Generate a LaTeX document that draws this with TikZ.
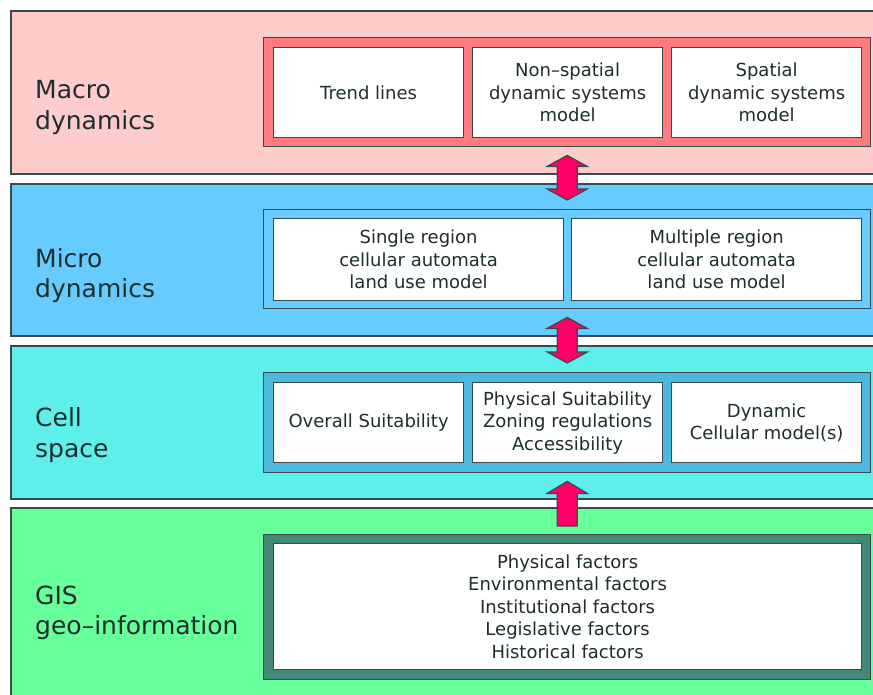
\documentclass[tikz,border=0pt]{standalone}
\usepackage{fontspec}
\setmainfont{DejaVu Sans}
\definecolor{edge}{HTML}{3A4A4A}
\definecolor{ink}{HTML}{1E2D2D}
\definecolor{macrofill}{HTML}{FFCCCC}
\definecolor{macrotray}{HTML}{FF7B80}
\definecolor{microfill}{HTML}{66CCFF}
\definecolor{microtray}{HTML}{66CCFF}
\definecolor{cellfill}{HTML}{5EEEEC}
\definecolor{celltray}{HTML}{4DB8DD}
\definecolor{gisfill}{HTML}{66FF99}
\definecolor{gistray}{HTML}{448877}
\definecolor{arrowfill}{HTML}{FF0066}
\begin{document}
\begin{tikzpicture}[x=1pt,y=-1pt,
    bandbox/.style={draw=edge, line width=1.6pt, anchor=north west, inner sep=0pt, minimum width=880pt},
    traybox/.style={draw=edge, line width=1.4pt, anchor=north west, inner sep=0pt, minimum width=607pt},
    modelbox/.style={draw=edge, line width=1.2pt, fill=white, anchor=north west, inner sep=0pt,
        align=center, text=ink, font=\fontsize{18}{22.5}\selectfont},
    bandlabel/.style={anchor=west, inner sep=0pt, align=left, text=ink, font=\fontsize{25}{30.5}\selectfont},
    blockarrow/.style={draw=edge, line width=1.2pt, fill=arrowfill, line join=miter},
]
    \newcommand\linkboth[2]{% {<upper node>}{<lower node>}
        \coordinate (tipA) at ([yshift=-8pt]#1.south);
        \coordinate (tipB) at ([yshift=9pt]#2.north);
        \draw[blockarrow] (tipA) -- ++(20,11) -- ++(-10,0) -- ([shift={(10pt,11pt)}]tipB) -- ++(10,0)
            -- (tipB) -- ++(-20,-11) -- ++(10,0) -- ([shift={(-10pt,-11pt)}]tipA) -- ++(-10,0) -- cycle;
    }
    \newcommand\linkup[2]{% {<upper node>}{<lower node>}
        \coordinate (tipA) at ([yshift=-8pt]#1.south);
        \coordinate (footB) at ([yshift=8pt]#2.north);
        \draw[blockarrow] (tipA) -- ++(20,12) -- ++(-10,0) -- ([xshift=10pt]footB) -- ++(-20,0)
            -- ([shift={(-10pt,-12pt)}]tipA) -- ++(-10,0) -- cycle;
    }

    \useasboundingbox (0,0) rectangle (873,694);
    \clip (0,0) rectangle (873,694);

    % macro dynamics
    \node[bandbox, fill=macrofill, minimum height=163pt] (macro) at (10,10) {};
    \node[traybox, fill=macrotray, minimum height=109pt] (macrotray) at (263,37) {};
    \node[modelbox, minimum width=190pt, minimum height=90pt] (trend) at (273,47) {Trend lines};
    \node[modelbox, minimum width=190pt, minimum height=90pt] (nonspatial) at (472,47) {Non--spatial\\dynamic systems\\model};
    \node[modelbox, minimum width=190pt, minimum height=90pt] (spatial) at (671,47) {Spatial\\dynamic systems\\model};
    \node[bandlabel] (macrolbl) at (35,107.5) {Macro\\dynamics};

    % micro dynamics
    \node[bandbox, fill=microfill, minimum height=152pt] (micro) at (10,183) {};
    \node[traybox, fill=microtray, minimum height=99pt] (microtray) at (263,209) {};
    \node[modelbox, minimum width=290pt, minimum height=82pt] (single) at (273,218) {Single region\\cellular automata\\land use model};
    \node[modelbox, minimum width=290pt, minimum height=82pt] (multiple) at (571,218) {Multiple region\\cellular automata\\land use model};
    \node[bandlabel] (microlbl) at (35,275.5) {Micro\\dynamics};

    % cell space
    \node[bandbox, fill=cellfill, minimum height=153pt] (cellspace) at (10,345) {};
    \node[traybox, fill=celltray, minimum height=100pt] (celltray) at (263,372) {};
    \node[modelbox, minimum width=190pt, minimum height=80pt] (overall) at (273,382) {Overall Suitability};
    \node[modelbox, minimum width=190pt, minimum height=80pt] (physical) at (472,382) {Physical Suitability\\Zoning regulations\\Accessibility};
    \node[modelbox, minimum width=190pt, minimum height=80pt] (dynamic) at (671,382) {Dynamic\\Cellular model(s)};
    \node[bandlabel] (celllbl) at (35,435) {Cell\\space};

    % GIS
    \node[bandbox, fill=gisfill, minimum height=210pt] (gis) at (10,507) {};
    \node[traybox, fill=gistray, minimum height=145pt] (gistray) at (263,534) {};
    \node[modelbox, minimum width=588pt, minimum height=126pt] (factors) at (273,543) {Physical factors\\Environmental factors\\Institutional factors\\Legislative factors\\Historical factors};
    \node[bandlabel] (gislbl) at (35,613) {GIS\\geo--information};

    \linkboth{macrotray}{microtray}
    \linkboth{microtray}{celltray}
    \linkup{celltray}{gistray}
\end{tikzpicture}
\end{document}
